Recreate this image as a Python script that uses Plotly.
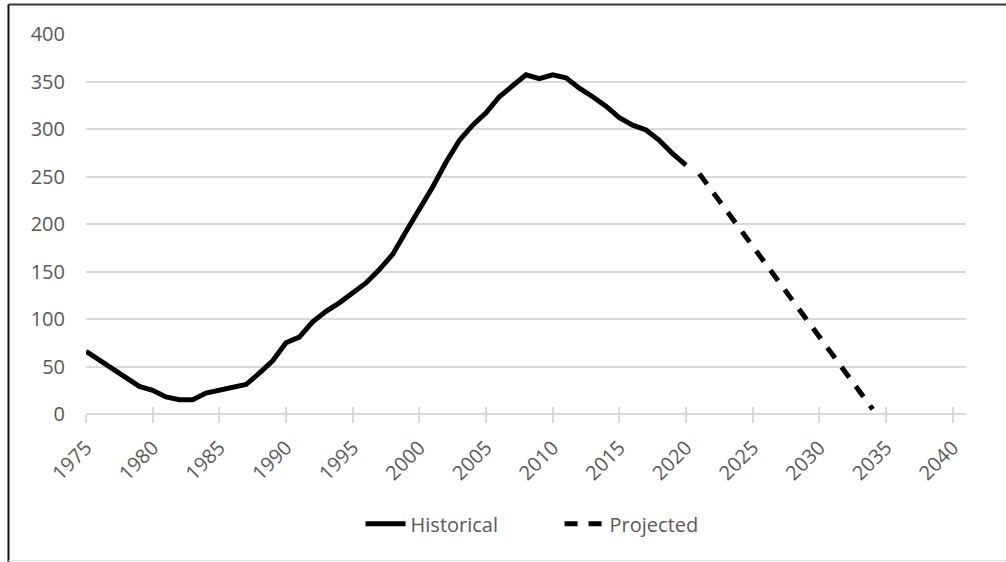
import plotly.graph_objects as go

hist_years = list(range(1975, 2021))
hist_values = [66, 57, 48, 38, 29, 25, 18, 15, 15, 22,
               25, 29, 31, 43, 56, 75, 81, 97, 108, 117,
               127, 138, 152, 168, 192, 215, 239, 265, 288, 304,
               317, 334, 345, 357, 353, 357, 354, 343, 334, 324,
               312, 304, 299, 288, 274, 262]
proj_years = list(range(2021, 2035))
proj_values = [253, 234, 215, 196, 177, 158, 139, 119, 100, 81, 62, 43, 24, 5]

x_ticks = list(range(1975, 2041, 5))
y_ticks = list(range(0, 401, 50))

FONT = "Open Sans"
TXT = "#595959"
GRID = "#d9d9d9"

fig = go.Figure()
fig.add_trace(go.Scatter(x=hist_years, y=hist_values, mode="lines", name="Historical",
                         line=dict(color="black", width=5), hoverinfo="skip"))
fig.add_trace(go.Scatter(x=proj_years, y=proj_values, mode="lines", name="Projected",
                         line=dict(color="black", width=5, dash="13px,11px"), hoverinfo="skip"))
# invisible trace to activate overlay axis for inner tick halves
fig.add_trace(go.Scatter(x=proj_years, y=proj_values, mode="lines", xaxis="x2",
                         line=dict(width=0, color="rgba(0,0,0,0)"), showlegend=False, hoverinfo="skip"))

fig.update_layout(
    width=1006, height=562,
    margin=dict(l=86, r=40, t=34, b=148),
    paper_bgcolor="white", plot_bgcolor="white",
    font=dict(family=FONT, size=20, color=TXT),
    showlegend=True,
    legend=dict(orientation="h", x=0.312, xanchor="left", y=-0.289, yanchor="middle",
                font=dict(family=FONT, size=20, color=TXT), itemwidth=40,
                entrywidth=144, entrywidthmode="pixels",
                bgcolor="rgba(0,0,0,0)"),
    xaxis=dict(range=[1975, 2041], tickmode="array", tickvals=x_ticks,
               ticktext=[str(v) for v in x_ticks], tickangle=-45,
               showgrid=False, zeroline=False, showline=False,
               ticks="outside", ticklen=8, tickwidth=2, tickcolor=GRID,
               ticklabelstandoff=5,
               tickfont=dict(family=FONT, size=20, color=TXT)),
    xaxis2=dict(range=[1975, 2041], overlaying="x", anchor="y", side="bottom",
                tickmode="array", tickvals=x_ticks, showticklabels=False,
                showgrid=False, zeroline=False, showline=False,
                ticks="inside", ticklen=7, tickwidth=2, tickcolor=GRID),
    yaxis=dict(range=[0, 400], tickmode="array", tickvals=y_ticks,
               showgrid=True, gridcolor=GRID, gridwidth=2,
               zeroline=True, zerolinecolor=GRID, zerolinewidth=2,
               showline=False, ticks="", ticklabelstandoff=20,
               tickfont=dict(family=FONT, size=20, color=TXT)),
    shapes=[
        dict(type="line", xref="paper", yref="paper", x0=-0.0881, x1=1.06, y0=1.0776, y1=1.0776,
             line=dict(color="#3a3a3a", width=2)),
        dict(type="line", xref="paper", yref="paper", x0=-0.0881, x1=-0.0881, y0=1.0776, y1=-0.40,
             line=dict(color="#111111", width=2)),
        dict(type="line", xref="paper", yref="paper", x0=-0.0881, x1=1.06, y0=-0.3855, y1=-0.3855,
             line=dict(color="#e0e0e0", width=1)),
    ],
)

fig.write_html("out.html", config={"displayModeBar": False},
               post_script="document.body.style.margin='0';document.body.style.padding='0';")
